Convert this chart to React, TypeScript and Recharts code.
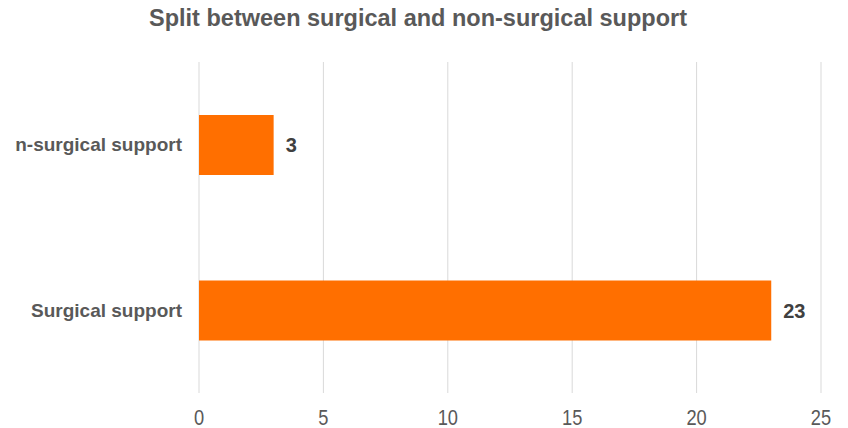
import { BarChart, Bar, XAxis, YAxis, CartesianGrid, LabelList } from "recharts";

const categories = ["n-surgical support", "Surgical support"];
const supportCounts = [3, 23];
const xTicks = [0, 5, 10, 15, 20, 25];

const data = categories.map((name, i) => ({ name, value: supportCounts[i] }));

// narrow-looking tick text (no Arial Narrow available, so squeeze it)
const NarrowTick = (props: any) => {
  const { x, y, payload } = props;
  return (
    <g transform={`translate(${x},${y})`}>
      <text
        transform="scale(0.83,1)"
        textAnchor="middle"
        dy="0.71em"
        fill="#595959"
        fontSize={22}
        fontFamily="'Liberation Sans', Arial, sans-serif"
      >
        {payload.value}
      </text>
    </g>
  );
};

export default function App() {
  return (
    <div style={{ position: "absolute", left: 0, top: 0, width: 848, height: 428, background: "#fff" }}>
      <div
        style={{
          position: "absolute",
          top: 5,
          left: 0,
          width: 836,
          textAlign: "center",
          fontFamily: "'Liberation Sans', Arial, sans-serif",
          fontWeight: "bold",
          fontSize: 23.5,
          color: "#595959",
        }}
      >
        Split between surgical and non-surgical support
      </div>
      <BarChart
        width={848}
        height={428}
        data={data}
        layout="vertical"
        margin={{ top: 62, right: 27, bottom: 0, left: 0 }}
        barSize={60}
      >
        <CartesianGrid horizontal={false} stroke="#d9d9d9" />
        <XAxis
          type="number"
          domain={[0, 25]}
          ticks={xTicks}
          axisLine={false}
          tickLine={false}
          tickMargin={10}
          height={35}
          tick={<NarrowTick />}
        />
        <YAxis
          type="category"
          dataKey="name"
          width={199}
          axisLine={false}
          tickLine={false}
          tickMargin={11}
          tick={{ fill: "#595959", fontSize: 19, fontWeight: "bold", fontFamily: "'Liberation Sans', Arial, sans-serif" }}
        />
        <Bar dataKey="value" fill="#ff6f00" isAnimationActive={false}>
          <LabelList
            dataKey="value"
            position="right"
            offset={12}
            style={{ fill: "#404040", fontSize: 20, fontWeight: "bold", fontFamily: "'Liberation Sans', Arial, sans-serif" }}
          />
        </Bar>
      </BarChart>
    </div>
  );
}
